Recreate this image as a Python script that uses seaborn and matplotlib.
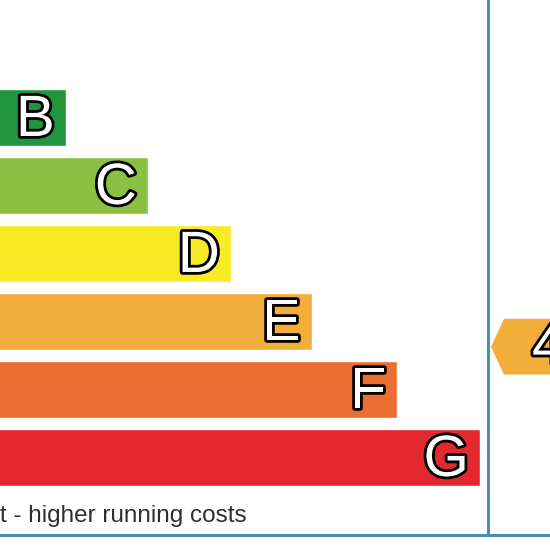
#!/usr/bin/env python

import matplotlib
matplotlib.use('Agg')
import matplotlib.pyplot as plt
import matplotlib.patheffects as pe
from matplotlib.patches import Polygon
import pandas as pd
import seaborn as sns

# energy rating bands (A is cropped off the left edge of the picture)
BANDS = ['A', 'B', 'C', 'D', 'E', 'F', 'G']
BAR_LENGTHS = [84, 166, 248, 331, 412, 497, 580]
BAND_COLORS = ['#00854f', '#22963c', '#8cc043', '#f8eb26', '#f2ad3a', '#ea6d31', '#e3292e']

CURRENT_RATING = '41'
CURRENT_BAND_POS = 4.37
CURRENT_COLOR = '#f2ad3a'

FOOTER_TEXT = 'Not energy efficient - higher running costs'
FRAME_COLOR = '#4f8dab'

X_VIEW = (100, 650)


def main():
    data = pd.DataFrame({'band': BANDS, 'length': BAR_LENGTHS})

    sns.set_style('white')
    plt.rcParams['font.family'] = ['Liberation Sans', 'DejaVu Sans']

    fig = plt.figure(figsize=(5.5, 5.5), dpi=100)
    ax = fig.add_axes([0, 0, 1, 1])
    sns.barplot(
        data       = data,
        x          = 'length',
        y          = 'band',
        hue        = 'band',
        palette    = BAND_COLORS,
        saturation = 1,
        orient     = 'h',
        width      = 0.85,
        legend     = False,
        ax         = ax
    )

    outline = [pe.withStroke(linewidth=4, foreground='black')]
    for i, (band, length) in enumerate(zip(BANDS, BAR_LENGTHS)):
        if length < X_VIEW[0] + 40:
            continue  # label falls outside the cropped view
        ax.annotate(
            band,
            xy         = (length, i),
            xytext     = (-8, -2.5),
            textcoords = 'offset points',
            ha         = 'right',
            va         = 'center',
            fontsize   = 42,
            color      = 'white',
            path_effects = outline
        )

    # current rating arrow in the right-hand column
    tip = 591
    half = 0.41
    arrow = Polygon(
        [(tip, CURRENT_BAND_POS), (tip + 13, CURRENT_BAND_POS - half),
         (700, CURRENT_BAND_POS - half), (700, CURRENT_BAND_POS + half),
         (tip + 13, CURRENT_BAND_POS + half)],
        closed=True, facecolor=CURRENT_COLOR, edgecolor='none', zorder=3
    )
    ax.add_patch(arrow)
    ax.text(
        632, CURRENT_BAND_POS + 0.03, CURRENT_RATING,
        ha='left', va='center', fontsize=42, color='white',
        path_effects=outline, zorder=4
    )

    ax.text(
        347, 6.86, FOOTER_TEXT,
        ha='right', va='center', fontsize=17.5, color='#2e2e2e'
    )

    # frame lines
    ax.plot([588, 588], [-1, 7.14], color=FRAME_COLOR, lw=2.2, zorder=2)
    ax.axhline(7.14, color=FRAME_COLOR, lw=2.2, zorder=2)

    ax.set_xlim(*X_VIEW)
    ax.set_ylim(7.36, -0.728)
    ax.set_axis_off()

    fig.savefig('out.png', dpi=100)
    plt.close(fig)


if __name__ == '__main__':
    main()
